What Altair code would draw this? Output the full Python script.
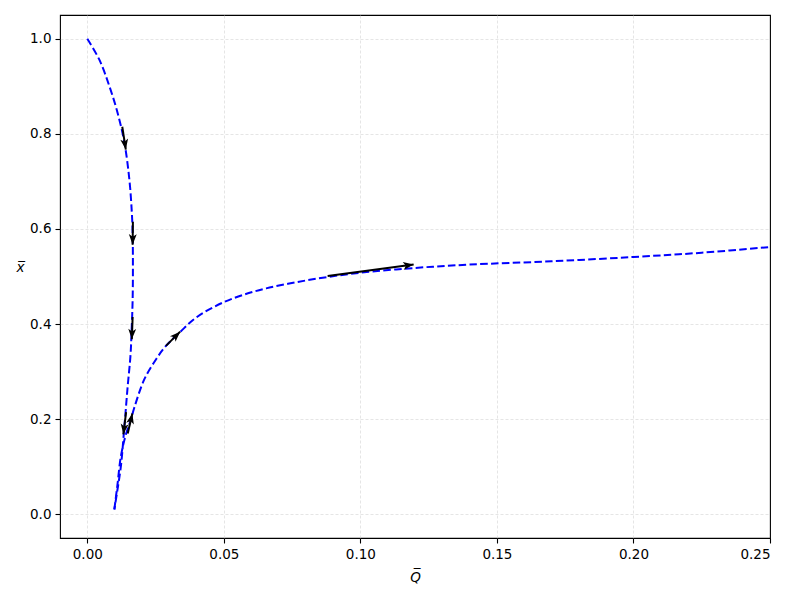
import math
import altair as alt
import pandas as pd

# ---- data ----
curve1_Q = [0.0, 0.0044, 0.0081, 0.0111, 0.0136, 0.0154, 0.0163, 0.0166, 0.0167,
            0.0166, 0.0162, 0.0158, 0.0148, 0.0136, 0.0123, 0.0110, 0.0099]
curve1_x = [1.0, 0.956, 0.900, 0.844, 0.781, 0.704, 0.635, 0.590, 0.520,
            0.452, 0.382, 0.333, 0.270, 0.186, 0.101, 0.050, 0.010]

curve2_Q = [0.0099, 0.0110, 0.0123, 0.0140, 0.0160, 0.0172, 0.0209, 0.0252, 0.0288,
            0.0343, 0.0386, 0.0429, 0.0496, 0.0569, 0.0655, 0.0765, 0.0880, 0.1000,
            0.1200, 0.1400, 0.1700, 0.2000, 0.2250, 0.2500]
curve2_x = [0.010, 0.060, 0.122, 0.165, 0.200, 0.224, 0.284, 0.326, 0.354,
            0.385, 0.408, 0.425, 0.445, 0.461, 0.475, 0.488, 0.499, 0.508,
            0.518, 0.525, 0.532, 0.541, 0.550, 0.562]

arrow_from_Q = [0.0128, 0.0167, 0.0166, 0.0142, 0.0148, 0.0288, 0.0880]
arrow_from_x = [0.815, 0.615, 0.415, 0.215, 0.170, 0.354, 0.501]
arrow_to_Q = [0.0141, 0.0166, 0.0163, 0.0132, 0.0165, 0.0340, 0.1195]
arrow_to_x = [0.767, 0.567, 0.368, 0.168, 0.212, 0.384, 0.525]

x_ticks = [0.0, 0.05, 0.10, 0.15, 0.20, 0.25]
y_ticks = [0.0, 0.2, 0.4, 0.6, 0.8, 1.0]

# ---- layout ----
W, H = 710, 523
QDOM = [-0.01, 0.25]
XDOM = [-0.05, 1.05]
FONT = "DejaVu Sans"

rows = []
for i, (q, x) in enumerate(zip(curve1_Q, curve1_x)):
    rows.append({"Q": q, "x": x, "curve": "a", "order": i})
for i, (q, x) in enumerate(zip(curve2_Q, curve2_x)):
    rows.append({"Q": q, "x": x, "curve": "b", "order": i})
curves = pd.DataFrame(rows)

sx = W / (QDOM[1] - QDOM[0])
sy = H / (XDOM[1] - XDOM[0])
arr_rows = []
for q0, x0, q1, x1 in zip(arrow_from_Q, arrow_from_x, arrow_to_Q, arrow_to_x):
    dxp = (q1 - q0) * sx
    dyp = -(x1 - x0) * sy
    ang = math.degrees(math.atan2(dxp, -dyp)) % 360
    arr_rows.append({"Q0": q0, "x0": x0, "Q1": q1, "x1": x1, "angle": ang})
arrows = pd.DataFrame(arr_rows)

xscale = alt.Scale(domain=QDOM, nice=False, zero=False)
yscale = alt.Scale(domain=XDOM, nice=False, zero=False)

xaxis = alt.Axis(values=x_ticks, format=".2f", title="Q\u0305",
                 titleFontStyle="italic", titleY=39, titleBaseline="middle",
                 gridOpacity={"condition": {"test": "datum.value >= 0.249", "value": 0},
                              "value": 1})
yaxis = alt.Axis(values=y_ticks, format=".1f", title="x\u0305",
                 titleFontStyle="italic", titleAngle=0, titleX=-40, titleY=252,
                 titleAlign="center", titleBaseline="middle")

lines = alt.Chart(curves).mark_line(
    color="#0000ff", strokeWidth=2.0, strokeDash=[7.5, 3.3], clip=True,
    interpolate="catmull-rom"
).encode(
    x=alt.X("Q:Q", scale=xscale, axis=xaxis),
    y=alt.Y("x:Q", scale=yscale, axis=yaxis),
    detail="curve:N",
    order="order:Q",
)

shafts = alt.Chart(arrows).mark_rule(color="black", strokeWidth=2.0).encode(
    x=alt.X("Q0:Q", scale=xscale),
    y=alt.Y("x0:Q", scale=yscale),
    x2="Q1:Q",
    y2="x1:Q",
)

heads = alt.Chart(arrows).mark_point(
    shape="M0,0L0.75,2L0,1.5L-0.75,2Z", filled=True, color="black",
    opacity=1, size=110, strokeWidth=0
).encode(
    x=alt.X("Q1:Q", scale=xscale),
    y=alt.Y("x1:Q", scale=yscale),
    angle=alt.Angle("angle:Q", scale=None),
)

chart = alt.layer(lines, shafts, heads).properties(
    width=W, height=H,
    padding={"left": 52, "top": 7, "right": 22, "bottom": 55},
    autosize=alt.AutoSizeParams(type="none"),
).configure_view(
    stroke="black", strokeWidth=1.1
).configure_axis(
    domain=False,
    grid=True, gridColor="#d4d4d4", gridDash=[3, 2], gridWidth=0.6,
    tickColor="black", tickSize=5, tickWidth=1.1,
    labelFont=FONT, labelFontSize=13.5, labelColor="black", labelPadding=4,
    titleFont=FONT, titleFontSize=13.5, titleColor="black", titleFontWeight="normal",
)

chart.save("out.html", embed_options={"renderer": "svg", "actions": False})
